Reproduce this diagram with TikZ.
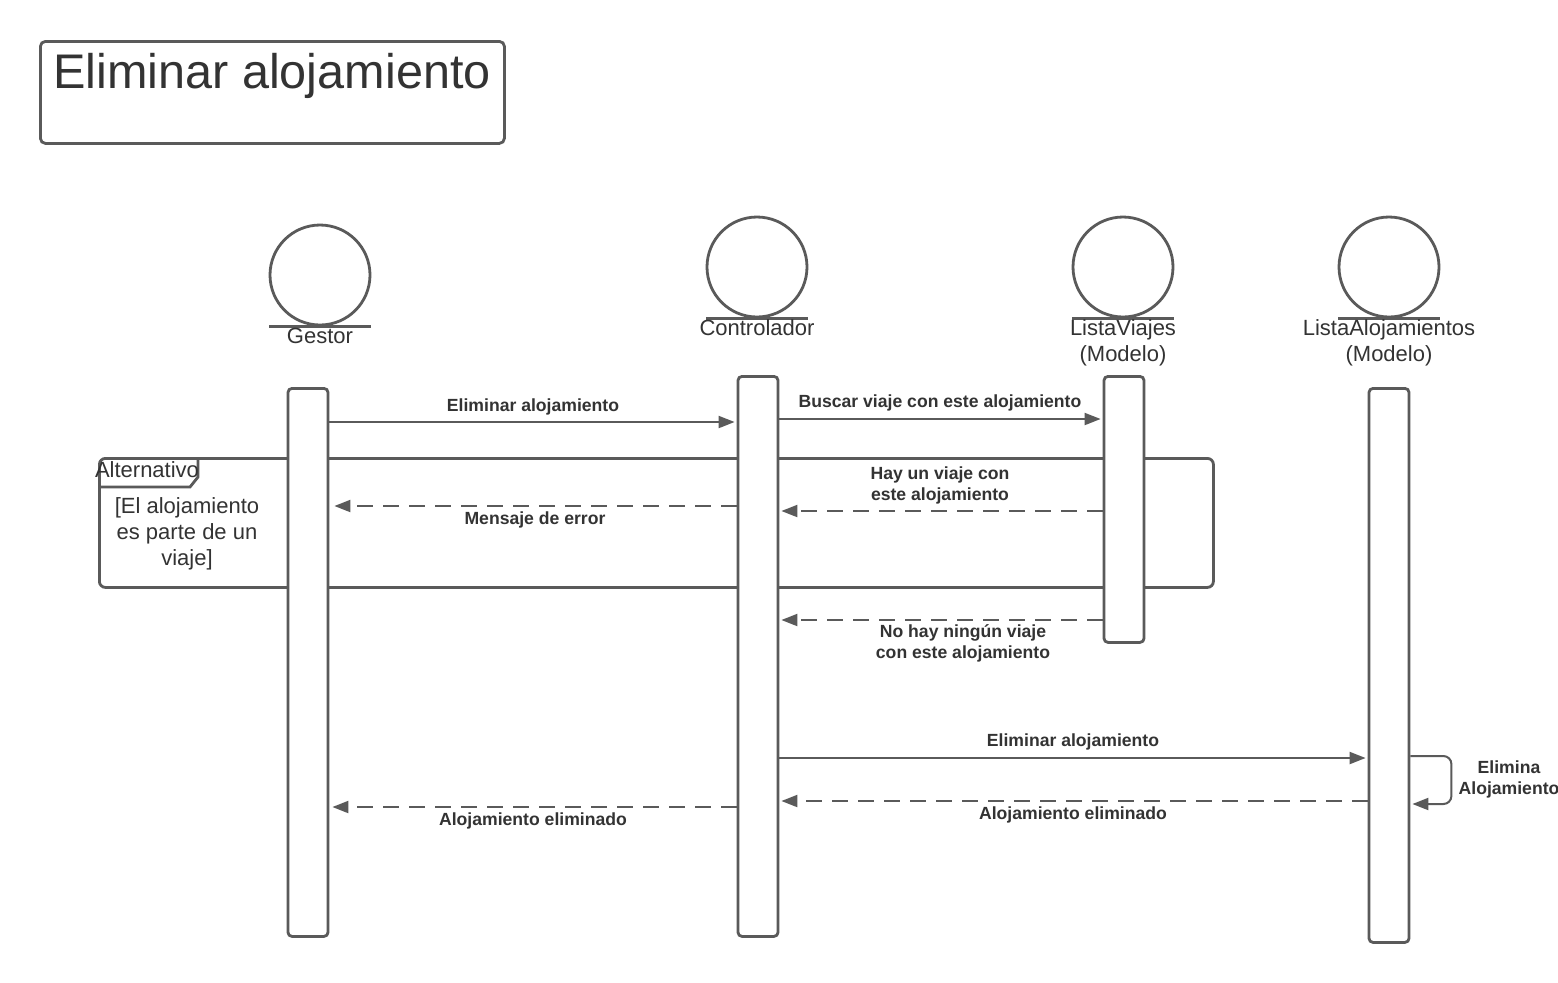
\documentclass[tikz,border=0pt]{standalone}
\usepackage{fontspec}
\setmainfont{Liberation Sans}
\usetikzlibrary{arrows.meta}
\definecolor{ln}{HTML}{5A5A5A}
\definecolor{tx}{HTML}{333333}
\begin{document}
\begin{tikzpicture}[x=0.5pt,y=-0.5pt,
  shapeline/.style={draw=ln, line width=1.4pt},
  actbar/.style={draw=ln, line width=1.4pt, fill=white, rounded corners=2pt, minimum width=20pt, inner sep=0pt, anchor=north},
  head/.style={circle, draw=ln, line width=1.4pt, minimum size=50pt, inner sep=0pt},
  msg/.style={draw=ln, line width=1pt, -{Triangle[length=8pt,width=6pt]}},
  ret/.style={msg, dash pattern=on 8pt off 5pt},
  lbl/.style={font=\fontsize{8.8}{10.5}\selectfont\bfseries, text=tx, anchor=base, inner sep=0pt},
  nm/.style={font=\fontsize{11}{13}\selectfont, text=tx, anchor=base, inner sep=0pt},
]
\useasboundingbox (0,0) rectangle (1558,982);
\fill[white] (0,0) rectangle (1558,982);

% title
\node[shapeline, rounded corners=2.5pt, minimum width=232pt, minimum height=51pt, anchor=north west, inner sep=0pt] (titlebox) at (39,40) {};
\node[font=\fontsize{24.3}{28}\selectfont, text=tx, anchor=base, inner sep=0pt] (title) at (272,88) {Eliminar alojamiento};

% lifeline heads
\node[head] (g) at (320,275) {};
\draw[shapeline] ([xshift=-25.5pt]g.south) -- ([xshift=25.5pt]g.south);
\node[nm] (gname) at (320,343) {Gestor};

\node[head] (c) at (757,267) {};
\draw[shapeline] ([xshift=-25.5pt]c.south) -- ([xshift=25.5pt]c.south);
\node[nm] (cname) at (757,335) {Controlador};

\node[head] (v) at (1123,267) {};
\draw[shapeline] ([xshift=-25.5pt]v.south) -- ([xshift=25.5pt]v.south);
\node[nm] (vname) at (1123,335) {ListaViajes};
\node[nm] (vname2) at (1123,361) {(Modelo)};

\node[head] (a) at (1389,267) {};
\draw[shapeline] ([xshift=-25.5pt]a.south) -- ([xshift=25.5pt]a.south);
\node[nm] (aname) at (1389,335) {ListaAlojamientos};
\node[nm] (aname2) at (1389,361) {(Modelo)};

% alternative fragment
\node[shapeline, rounded corners=3pt, minimum width=557pt, minimum height=64.5pt, anchor=north west, inner sep=0pt] (alt) at (98,457) {};
\draw[shapeline] ([yshift=-15pt]alt.north west) -- ++(92,0) -- ++(8,-10) -- ([xshift=50pt]alt.north west);
\node[nm] (altlbl) at (147,477) {Alternativo};
\node[nm] (guard1) at (187,513) {[El alojamiento};
\node[nm] (guard2) at (187,539) {es parte de un};
\node[nm] (guard3) at (187,565) {viaje]};

% activation bars
\node[actbar, minimum height=274pt] (gbar) at (308,387) {};
\node[actbar, minimum height=280pt] (cbar) at (758,375) {};
\node[actbar, minimum height=133pt] (vbar) at (1124,375) {};
\node[actbar, minimum height=277pt] (abar) at (1389,387) {};

% message rows
\coordinate (y1) at (0,422);
\coordinate (y2) at (0,419);
\coordinate (y3) at (0,511);
\coordinate (y4) at (0,506);
\coordinate (y5) at (0,620);
\coordinate (y6) at (0,758);
\coordinate (y7a) at (0,756);
\coordinate (y7b) at (0,804);
\coordinate (y8) at (0,801);
\coordinate (y9) at (0,807);

\draw[msg, shorten >=1pt] (gbar.east |- y1) -- (cbar.west |- y1);
\node[lbl] (l1) at (533,411) {Eliminar alojamiento};

\draw[msg, shorten >=1pt] (cbar.east |- y2) -- (vbar.west |- y2);
\node[lbl] (l2) at (940,407) {Buscar viaje con este alojamiento};

\draw[ret, shorten >=1pt] (vbar.west |- y3) -- (cbar.east |- y3);
\node[lbl] (l3a) at (940,479) {Hay un viaje con};
\node[lbl] (l3b) at (940,500) {este alojamiento};

\draw[ret, shorten >=2.5pt] (cbar.west |- y4) -- (gbar.east |- y4);
\node[lbl] (l4) at (535,524) {Mensaje de error};

\draw[ret, shorten >=1pt] (vbar.west |- y5) -- (cbar.east |- y5);
\node[lbl] (l5a) at (963,637) {No hay ningún viaje};
\node[lbl] (l5b) at (963,658) {con este alojamiento};

\draw[msg, shorten >=1pt] (cbar.east |- y6) -- (abar.west |- y6);
\node[lbl] (l6) at (1073,746) {Eliminar alojamiento};

\draw[msg, rounded corners=4pt] (abar.east |- y7a) -- ++(41,0) -- ++(0,48) -- ([xshift=1pt]abar.east |- y7b);
\node[lbl] (l7a) at (1509,773) {Elimina};
\node[lbl] (l7b) at (1509,794) {Alojamiento};

\draw[ret, shorten >=1pt] (abar.west |- y8) -- (cbar.east |- y8);
\node[lbl] (l8) at (1073,819) {Alojamiento eliminado};

\draw[ret, shorten >=1.5pt] (cbar.west |- y9) -- (gbar.east |- y9);
\node[lbl] (l9) at (533,825) {Alojamiento eliminado};
\end{tikzpicture}
\end{document}
